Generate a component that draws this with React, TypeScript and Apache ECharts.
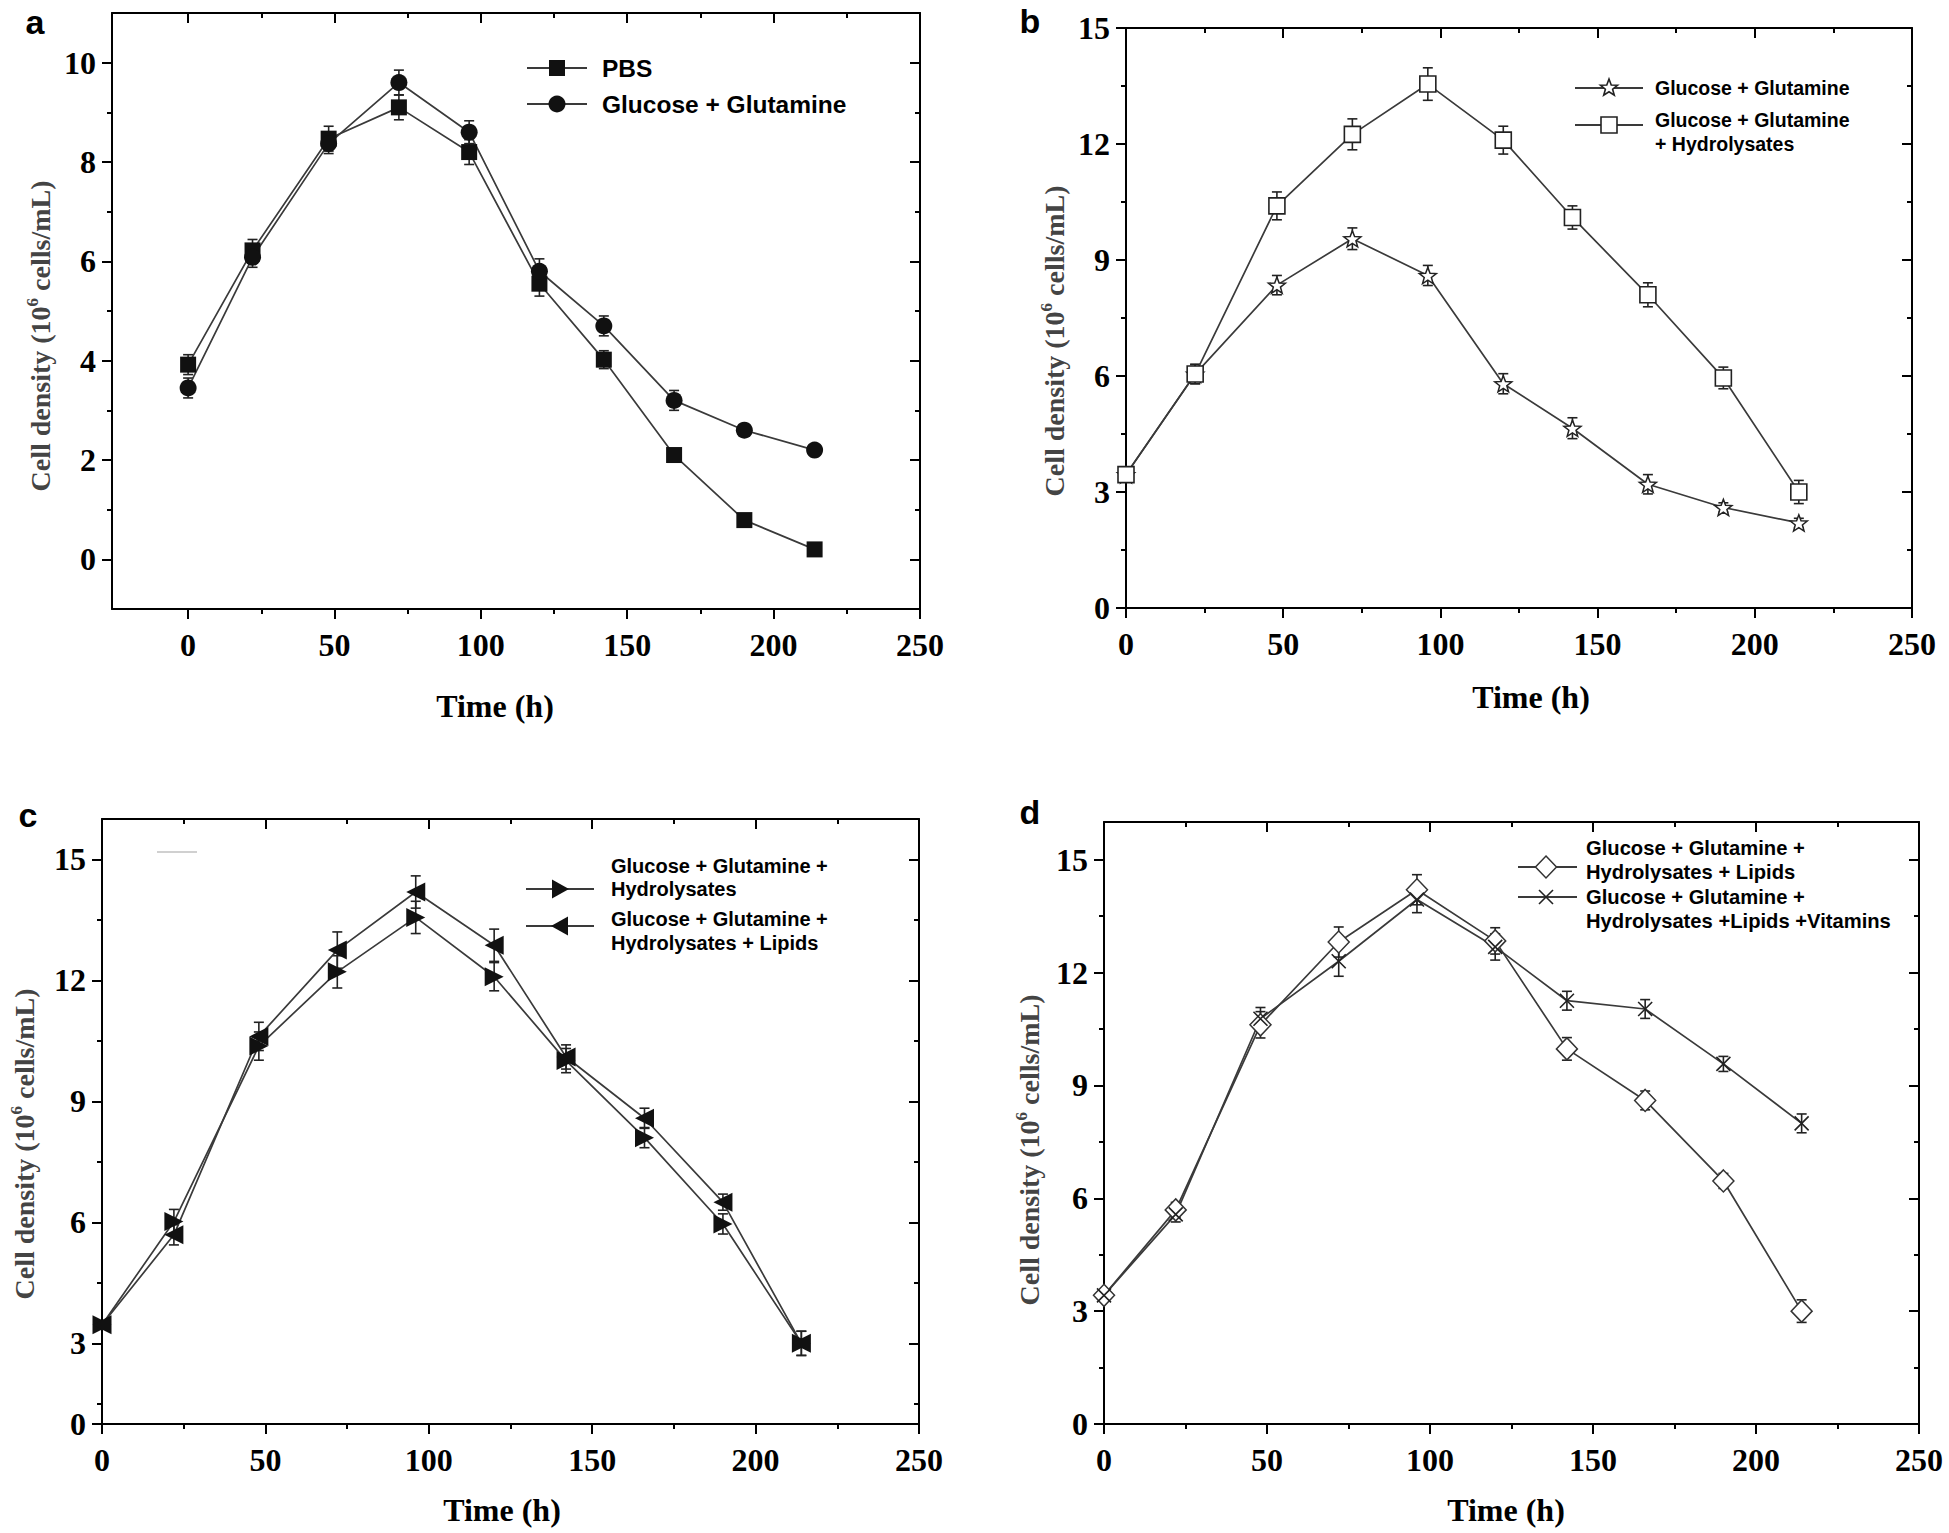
import React, { useEffect, useRef } from 'react';
import * as echarts from 'echarts';

// ---------------- data ----------------
const TIME_H = [0, 22, 48, 72, 96, 120, 142, 166, 190, 214];

// panel a
const A_NAMES = ['PBS', 'Glucose + Glutamine'];
const A_PBS = [3.92, 6.22, 8.47, 9.1, 8.2, 5.55, 4.02, 2.1, 0.79, 0.2];
const A_PBS_ERR = [0.2, 0.22, 0.25, 0.25, 0.25, 0.25, 0.18, 0.08, 0.08, 0.08];
const A_GG = [3.45, 6.08, 8.37, 9.6, 8.6, 5.8, 4.7, 3.2, 2.6, 2.2];
const A_GG_ERR = [0.2, 0.2, 0.2, 0.25, 0.23, 0.25, 0.2, 0.2, 0.1, 0.1];

// panel b
const B_NAMES = ['Glucose + Glutamine', 'Glucose + Glutamine\n+ Hydrolysates'];
const B_GG = [3.45, 6.05, 8.35, 9.55, 8.6, 5.8, 4.65, 3.2, 2.6, 2.2];
const B_GG_ERR = [0.1, 0.25, 0.25, 0.28, 0.26, 0.26, 0.27, 0.25, 0.12, 0.12];
const B_GGH = [3.45, 6.05, 10.4, 12.25, 13.55, 12.1, 10.1, 8.1, 5.95, 3.0];
const B_GGH_ERR = [0.1, 0.25, 0.36, 0.4, 0.42, 0.36, 0.3, 0.31, 0.28, 0.3];

// panel c
const C_NAMES = ['Glucose + Glutamine +\nHydrolysates', 'Glucose + Glutamine +\nHydrolysates + Lipids'];
const C_H = [3.46, 6.02, 10.37, 12.21, 13.56, 12.09, 10.01, 8.1, 5.96, 3.0];
const C_H_ERR = [0.1, 0.3, 0.35, 0.4, 0.4, 0.35, 0.3, 0.25, 0.25, 0.3];
const C_L = [3.46, 5.69, 10.61, 12.75, 14.19, 12.87, 10.1, 8.58, 6.5, 3.0];
const C_L_ERR = [0.1, 0.25, 0.35, 0.45, 0.4, 0.4, 0.3, 0.25, 0.2, 0.3];

// panel d
const D_NAMES = ['Glucose + Glutamine +\nHydrolysates + Lipids', 'Glucose + Glutamine +\nHydrolysates +Lipids +Vitamins'];
const D_L = [3.42, 5.69, 10.61, 12.81, 14.2, 12.84, 9.97, 8.6, 6.46, 3.0];
const D_L_ERR = [0.1, 0.2, 0.35, 0.4, 0.4, 0.35, 0.3, 0.25, 0.2, 0.3];
const D_V = [3.42, 5.57, 10.77, 12.3, 13.94, 12.68, 11.25, 11.03, 9.57, 7.99];
const D_V_ERR = [0.1, 0.2, 0.3, 0.4, 0.35, 0.35, 0.25, 0.25, 0.2, 0.25];

// ticks
const X_TICKS = [0, 50, 100, 150, 200, 250];
const X_MINOR = [25, 75, 125, 175, 225];
const A_Y_TICKS = [0, 2, 4, 6, 8, 10];
const A_Y_MINOR = [1, 3, 5, 7, 9];
const B_Y_TICKS = [0, 3, 6, 9, 12, 15];
const B_Y_MINOR = [1.5, 4.5, 7.5, 10.5, 13.5];
const C_Y_TICKS = [1, 3, 6, 9, 12, 15]; // lowest tick printed as "0" in the original
const C_Y_MINOR = [1.5, 4.5, 7.5, 10.5, 13.5];
const D_Y_TICKS = [0, 3, 6, 9, 12, 15];
const D_Y_MINOR = [1.5, 4.5, 7.5, 10.5, 13.5];

const X_TITLE = 'Time (h)';
const Y_TITLE_PRE = 'Cell density (10';
const Y_TITLE_SUP = '6';
const Y_TITLE_POST = ' cells/mL)';

// ---------------- styles / layout ----------------
const SERIF = 'Liberation Serif, Times New Roman, serif';
const SANS = 'Liberation Sans, Arial, sans-serif';
const LINE_C = '#3a3a3a';
const MARK_C = '#111';

function starPoints(cx: number, cy: number, R: number, r: number): number[][] {
  const pts: number[][] = [];
  for (let k = 0; k < 10; k++) {
    const ang = -Math.PI / 2 + (k * Math.PI) / 5;
    const rad = k % 2 === 0 ? R : r;
    pts.push([cx + rad * Math.cos(ang), cy + rad * Math.sin(ang)]);
  }
  return pts;
}
const STAR_PATH =
  'path://' +
  starPoints(10, 10, 10, 4.2)
    .map((p, i) => (i === 0 ? 'M' : 'L') + p[0].toFixed(2) + ',' + p[1].toFixed(2))
    .join(' ') +
  ' Z';
const CROSS_PATH = 'path://M0,0 L10,10 M10,0 L0,10';

type Kind = 'rectFill' | 'circleFill' | 'star' | 'openRect' | 'triRight' | 'triLeft' | 'diamond' | 'cross';

function seriesSymbol(kind: Kind): any {
  switch (kind) {
    case 'rectFill':
      return { symbol: 'rect', symbolSize: 16, itemStyle: { color: MARK_C } };
    case 'circleFill':
      return { symbol: 'circle', symbolSize: 17, itemStyle: { color: MARK_C } };
    case 'star':
      return { symbol: STAR_PATH, symbolSize: 17, symbolKeepAspect: true, itemStyle: { color: '#fff', borderColor: '#222', borderWidth: 1.5 } };
    case 'openRect':
      return { symbol: 'rect', symbolSize: 16, itemStyle: { color: '#fff', borderColor: '#222', borderWidth: 1.6 } };
    case 'triRight':
      return { symbol: 'triangle', symbolSize: 19, symbolRotate: -90, itemStyle: { color: MARK_C } };
    case 'triLeft':
      return { symbol: 'triangle', symbolSize: 19, symbolRotate: 90, itemStyle: { color: MARK_C } };
    case 'diamond':
      return { symbol: 'diamond', symbolSize: [21, 22], itemStyle: { color: '#fff', borderColor: '#333', borderWidth: 1.5 } };
    case 'cross':
      return { symbol: CROSS_PATH, symbolSize: 14, itemStyle: { color: 'none', borderColor: '#222', borderWidth: 1.6 } };
  }
}

function legendSymbol(kind: Kind, cx: number, cy: number): any[] {
  const strokeOpen = { fill: '#fff', stroke: '#222', lineWidth: 1.6 };
  switch (kind) {
    case 'rectFill':
      return [{ type: 'rect', shape: { x: cx - 8, y: cy - 8, width: 16, height: 16 }, style: { fill: MARK_C } }];
    case 'circleFill':
      return [{ type: 'circle', shape: { cx, cy, r: 8.5 }, style: { fill: MARK_C } }];
    case 'star':
      return [{ type: 'polygon', shape: { points: starPoints(cx, cy, 9, 3.8) }, style: strokeOpen }];
    case 'openRect':
      return [{ type: 'rect', shape: { x: cx - 8, y: cy - 8, width: 16, height: 16 }, style: strokeOpen }];
    case 'triRight':
      return [{ type: 'polygon', shape: { points: [[cx - 8, cy - 9.5], [cx + 9, cy], [cx - 8, cy + 9.5]] }, style: { fill: MARK_C } }];
    case 'triLeft':
      return [{ type: 'polygon', shape: { points: [[cx + 8, cy - 9.5], [cx - 9, cy], [cx + 8, cy + 9.5]] }, style: { fill: MARK_C } }];
    case 'diamond':
      return [{ type: 'polygon', shape: { points: [[cx, cy - 11], [cx + 10.5, cy], [cx, cy + 11], [cx - 10.5, cy]] }, style: { fill: '#fff', stroke: '#333', lineWidth: 1.5 } }];
    case 'cross':
      return [
        { type: 'line', shape: { x1: cx - 7, y1: cy - 7, x2: cx + 7, y2: cy + 7 }, style: { stroke: '#222', lineWidth: 1.6 } },
        { type: 'line', shape: { x1: cx + 7, y1: cy - 7, x2: cx - 7, y2: cy + 7 }, style: { stroke: '#222', lineWidth: 1.6 } },
      ];
  }
}

interface SeriesDef { name: string; values: number[]; errs: number[]; kind: Kind; }
interface LegendRow { sy: number; ty: number[]; }
interface Panel {
  letter: string; letterPos: [number, number];
  grid: { left: number; top: number; width: number; height: number };
  xRange: [number, number]; yRange: [number, number];
  yTicks: number[]; yMinor: number[]; yFmt?: (v: number) => string;
  yTitle: [number, number]; xTitle: [number, number];
  series: SeriesDef[];
  legend: { lineX: [number, number]; markX: number; textX: number; font: number; rows: LegendRow[] };
}

const PANELS: Panel[] = [
  {
    letter: 'a', letterPos: [35, 22],
    grid: { left: 112, top: 13, width: 808, height: 596 },
    xRange: [-26, 250], yRange: [-1, 11], yTicks: A_Y_TICKS, yMinor: A_Y_MINOR,
    yTitle: [39, 336], xTitle: [495, 706],
    series: [
      { name: A_NAMES[0], values: A_PBS, errs: A_PBS_ERR, kind: 'rectFill' },
      { name: A_NAMES[1], values: A_GG, errs: A_GG_ERR, kind: 'circleFill' },
    ],
    legend: { lineX: [527, 587], markX: 557, textX: 602, font: 24.5, rows: [{ sy: 68, ty: [68] }, { sy: 104, ty: [104] }] },
  },
  {
    letter: 'b', letterPos: [1030, 21],
    grid: { left: 1126, top: 28, width: 786, height: 580 },
    xRange: [0, 250], yRange: [0, 15], yTicks: B_Y_TICKS, yMinor: B_Y_MINOR,
    yTitle: [1053, 341], xTitle: [1531, 697],
    series: [
      { name: B_NAMES[0], values: B_GG, errs: B_GG_ERR, kind: 'star' },
      { name: B_NAMES[1], values: B_GGH, errs: B_GGH_ERR, kind: 'openRect' },
    ],
    legend: { lineX: [1575, 1643], markX: 1609, textX: 1655, font: 19.5, rows: [{ sy: 88, ty: [88] }, { sy: 125, ty: [120, 144] }] },
  },
  {
    letter: 'c', letterPos: [28, 815],
    grid: { left: 102, top: 819, width: 817, height: 605 },
    xRange: [0, 250], yRange: [1, 16], yTicks: C_Y_TICKS, yMinor: C_Y_MINOR,
    yFmt: (v: number) => (v === 1 ? '0' : String(v)),
    yTitle: [23, 1144], xTitle: [502, 1510],
    series: [
      { name: C_NAMES[0], values: C_H, errs: C_H_ERR, kind: 'triRight' },
      { name: C_NAMES[1], values: C_L, errs: C_L_ERR, kind: 'triLeft' },
    ],
    legend: { lineX: [526, 594], markX: 560, textX: 611, font: 20, rows: [{ sy: 889, ty: [866, 889] }, { sy: 926, ty: [919, 943] }] },
  },
  {
    letter: 'd', letterPos: [1030, 812],
    grid: { left: 1104, top: 822, width: 815, height: 602 },
    xRange: [0, 250], yRange: [0, 16], yTicks: D_Y_TICKS, yMinor: D_Y_MINOR,
    yTitle: [1028, 1150], xTitle: [1506, 1510],
    series: [
      { name: D_NAMES[0], values: D_L, errs: D_L_ERR, kind: 'diamond' },
      { name: D_NAMES[1], values: D_V, errs: D_V_ERR, kind: 'cross' },
    ],
    legend: { lineX: [1518, 1577], markX: 1546, textX: 1586, font: 20.2, rows: [{ sy: 867, ty: [848, 872] }, { sy: 897, ty: [897, 921] }] },
  },
];

function makeAxes(dim: 'x' | 'y', gi: number, range: [number, number], majors: number[], minors: number[], fmt?: (v: number) => string): any[] {
  const pos1 = dim === 'x' ? 'bottom' : 'left';
  const pos2 = dim === 'x' ? 'top' : 'right';
  const base = { type: 'value', gridIndex: gi, min: range[0], max: range[1], splitLine: { show: false } };
  const line = { show: true, onZero: false, lineStyle: { color: '#000', width: 2 } };
  const noLine = { show: false, onZero: false };
  const tickStyle = { color: '#000', width: 2 };
  return [
    {
      ...base, position: pos1, axisLine: line,
      axisTick: { show: true, inside: false, length: 10, lineStyle: tickStyle, customValues: majors },
      axisLabel: {
        show: true, customValues: majors, formatter: fmt || ((v: number) => String(v)),
        margin: dim === 'x' ? 20 : 16, fontFamily: SERIF, fontWeight: 'bold', fontSize: 32, color: '#000',
      },
    },
    {
      ...base, position: pos1, axisLine: noLine,
      axisTick: { show: true, inside: false, length: 5, lineStyle: tickStyle, customValues: minors },
      axisLabel: { show: false },
    },
    {
      ...base, position: pos2, axisLine: line,
      axisTick: { show: true, inside: true, length: 10, lineStyle: tickStyle, customValues: majors },
      axisLabel: { show: false },
    },
    {
      ...base, position: pos2, axisLine: noLine,
      axisTick: { show: true, inside: true, length: 5, lineStyle: tickStyle, customValues: minors },
      axisLabel: { show: false },
    },
  ];
}

function errRender(params: any, api: any) {
  const t = api.value(0);
  const v = api.value(1);
  const e = api.value(2);
  const top = api.coord([t, v + e]);
  const bot = api.coord([t, v - e]);
  const cap = 5;
  const st = { stroke: '#222', lineWidth: 1.6 };
  return {
    type: 'group',
    children: [
      { type: 'line', shape: { x1: top[0], y1: top[1], x2: bot[0], y2: bot[1] }, style: st },
      { type: 'line', shape: { x1: top[0] - cap, y1: top[1], x2: top[0] + cap, y2: top[1] }, style: st },
      { type: 'line', shape: { x1: bot[0] - cap, y1: bot[1], x2: bot[0] + cap, y2: bot[1] }, style: st },
    ],
  };
}

function buildOption(): any {
  const grid: any[] = [];
  const xAxis: any[] = [];
  const yAxis: any[] = [];
  const series: any[] = [];
  const graphic: any[] = [];

  PANELS.forEach((p, gi) => {
    grid.push({ ...p.grid, containLabel: false });
    const xb = xAxis.length;
    xAxis.push(...makeAxes('x', gi, p.xRange, X_TICKS, X_MINOR));
    const yb = yAxis.length;
    yAxis.push(...makeAxes('y', gi, p.yRange, p.yTicks, p.yMinor, p.yFmt));

    p.series.forEach((s) => {
      series.push({
        type: 'custom', name: s.name + ' (SD)', xAxisIndex: xb, yAxisIndex: yb, z: 1, silent: true,
        renderItem: errRender, encode: { x: 0, y: 1 },
        data: TIME_H.map((t, i) => [t, s.values[i], s.errs[i]]),
      });
      series.push({
        type: 'line', name: s.name, xAxisIndex: xb, yAxisIndex: yb, z: 2,
        data: TIME_H.map((t, i) => [t, s.values[i]]),
        lineStyle: { color: LINE_C, width: 1.7 },
        ...seriesSymbol(s.kind),
      });
    });

    // panel letter
    graphic.push({
      type: 'text', x: p.letterPos[0], y: p.letterPos[1],
      style: { text: p.letter, fontFamily: SANS, fontWeight: 'bold', fontSize: 34, fill: '#000', align: 'center', verticalAlign: 'middle' },
    });
    // x title
    graphic.push({
      type: 'text', x: p.xTitle[0], y: p.xTitle[1],
      style: { text: X_TITLE, fontFamily: SERIF, fontWeight: 'bold', fontSize: 32, fill: '#000', align: 'center', verticalAlign: 'middle' },
    });
    // y title
    graphic.push({
      type: 'text', x: p.yTitle[0], y: p.yTitle[1], rotation: Math.PI / 2,
      style: {
        text: '{t|' + Y_TITLE_PRE + '}{s|' + Y_TITLE_SUP + '}{t|' + Y_TITLE_POST + '}',
        align: 'center', verticalAlign: 'middle',
        rich: {
          t: { fontFamily: SERIF, fontWeight: 'bold', fontSize: 28, fill: '#444', lineHeight: 30, verticalAlign: 'bottom' },
          s: { fontFamily: SERIF, fontWeight: 'bold', fontSize: 17, fill: '#444', lineHeight: 30, verticalAlign: 'top' },
        },
      },
    });
    // legend
    const L = p.legend;
    p.series.forEach((s, si) => {
      const row = L.rows[si];
      graphic.push({
        type: 'line', shape: { x1: L.lineX[0], y1: row.sy, x2: L.lineX[1], y2: row.sy },
        style: { stroke: LINE_C, lineWidth: 2 },
      });
      graphic.push(...legendSymbol(s.kind, L.markX, row.sy));
      const lines = s.name.split('\n');
      lines.forEach((txt, li) => {
        graphic.push({
          type: 'text', x: L.textX, y: row.ty[li],
          style: { text: txt, fontFamily: SANS, fontWeight: 'bold', fontSize: L.font, fill: '#000', align: 'left', verticalAlign: 'middle' },
        });
      });
    });
  });

  // faint stray mark in panel c of the original
  graphic.push({ type: 'line', shape: { x1: 157, y1: 852, x2: 197, y2: 852 }, style: { stroke: '#d0d0d0', lineWidth: 2 } });

  return { animation: false, backgroundColor: '#fff', grid, xAxis, yAxis, series, graphic };
}

export default function App() {
  const ref = useRef<HTMLDivElement>(null);
  useEffect(() => {
    if (!ref.current) return;
    const chart = echarts.init(ref.current, undefined, { renderer: 'svg' });
    chart.setOption(buildOption());
    return () => chart.dispose();
  }, []);
  return (
    <div
      ref={ref}
      style={{ position: 'fixed', left: 0, top: 0, width: 1949, height: 1533, background: '#fff' }}
    />
  );
}
